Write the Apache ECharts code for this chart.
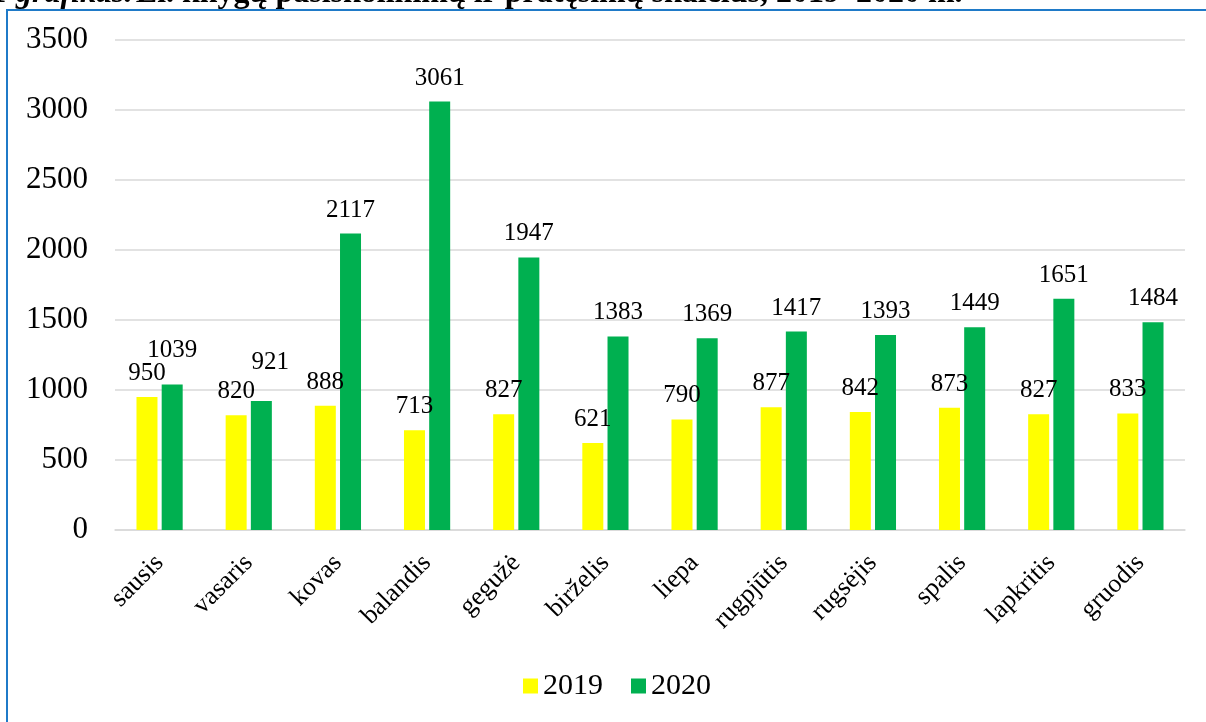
<!DOCTYPE html>
<html>
<head>
<meta charset="utf-8">
<script src="https://cdn.jsdelivr.net/npm/echarts@6/dist/echarts.min.js"></script>
<style>
html, body { margin: 0; padding: 0; background: #fff; }
#chart { width: 1206px; height: 722px; }
</style>
</head>
<body>
<div id="chart"></div>
<script>
var months = ['sausis', 'vasaris', 'kovas', 'balandis', 'gegužė', 'birželis',
    'liepa', 'rugpjūtis', 'rugsėjis', 'spalis', 'lapkritis', 'gruodis'];
var values2019 = [950, 820, 888, 713, 827, 621, 790, 877, 842, 873, 827, 833];
var values2020 = [1039, 921, 2117, 3061, 1947, 1383, 1369, 1417, 1393, 1449, 1651, 1484];
var yTicks = [0, 500, 1000, 1500, 2000, 2500, 3000, 3500];

var serif = '"Liberation Serif", "DejaVu Serif", serif';

var chart = echarts.init(document.getElementById('chart'));

var labelStyle = {
    show: true,
    position: 'top',
    distance: 11,
    fontFamily: serif,
    fontSize: 25,
    color: '#000'
};

// Excel pushed the first two 2020 labels up so they don't collide
var labelShift = { 0: [0, -11], 1: [9, -15] };
var data2020 = values2020.map(function (v, i) {
    if (labelShift[i])
        return { value: v, label: { offset: labelShift[i] } };
    return v;
});

option = {
    animation: false,
    textStyle: { fontFamily: serif },
    graphic: [{
        // caption of the page, only its lower part shows above the frame
        type: 'text',
        x: -8,
        y: 10,
        style: {
            text: '{i|1 grafikas.} {b|El. knygų pasiskolinimų ir pratęsimų skaičius, 2019–2020 m.}',
            verticalAlign: 'bottom',
            rich: {
                i: { fontFamily: serif, fontSize: 32, fontWeight: 'bold', fontStyle: 'italic', fill: '#000' },
                b: { fontFamily: serif, fontSize: 32, fontWeight: 'bold', fill: '#000' }
            }
        }
    }, {
        type: 'rect',
        z: 5,
        shape: { x: 7, y: 10, width: 1220, height: 740 },
        style: { fill: 'none', stroke: '#1f7ac8', lineWidth: 2 }
    }],
    legend: {
        data: ['2019', '2020'],
        bottom: 16,
        left: 518,
        itemWidth: 15,
        itemHeight: 15,
        itemGap: 28,
        icon: 'rect',
        textStyle: { fontFamily: serif, fontSize: 30, color: '#000' }
    },
    grid: {
        left: 115,
        right: 21,
        top: 40,
        bottom: 192,
        containLabel: false
    },
    xAxis: [{
        type: 'category',
        data: months,
        axisLine: { lineStyle: { color: '#d9d9d9', width: 1.5 } },
        axisTick: { show: false },
        axisLabel: {
            rotate: 45,
            margin: 29,
            fontFamily: serif,
            fontSize: 26,
            color: '#000'
        }
    }],
    yAxis: [{
        type: 'value',
        min: yTicks[0],
        max: yTicks[yTicks.length - 1],
        interval: 500,
        axisLine: { show: false },
        axisTick: { show: false },
        splitLine: { lineStyle: { color: '#d9d9d9', width: 1.5 } },
        axisLabel: {
            margin: 27,
            fontFamily: serif,
            fontSize: 31,
            color: '#000',
            formatter: function (v) { return String(v); }
        }
    }],
    series: [{
        name: '2019',
        type: 'bar',
        barWidth: 21,
        barGap: '20%',
        itemStyle: { color: '#ffff00' },
        label: labelStyle,
        data: values2019
    }, {
        name: '2020',
        type: 'bar',
        barWidth: 21,
        itemStyle: { color: '#00b050' },
        label: labelStyle,
        data: data2020
    }]
};

chart.setOption(option);
</script>
</body>
</html>
